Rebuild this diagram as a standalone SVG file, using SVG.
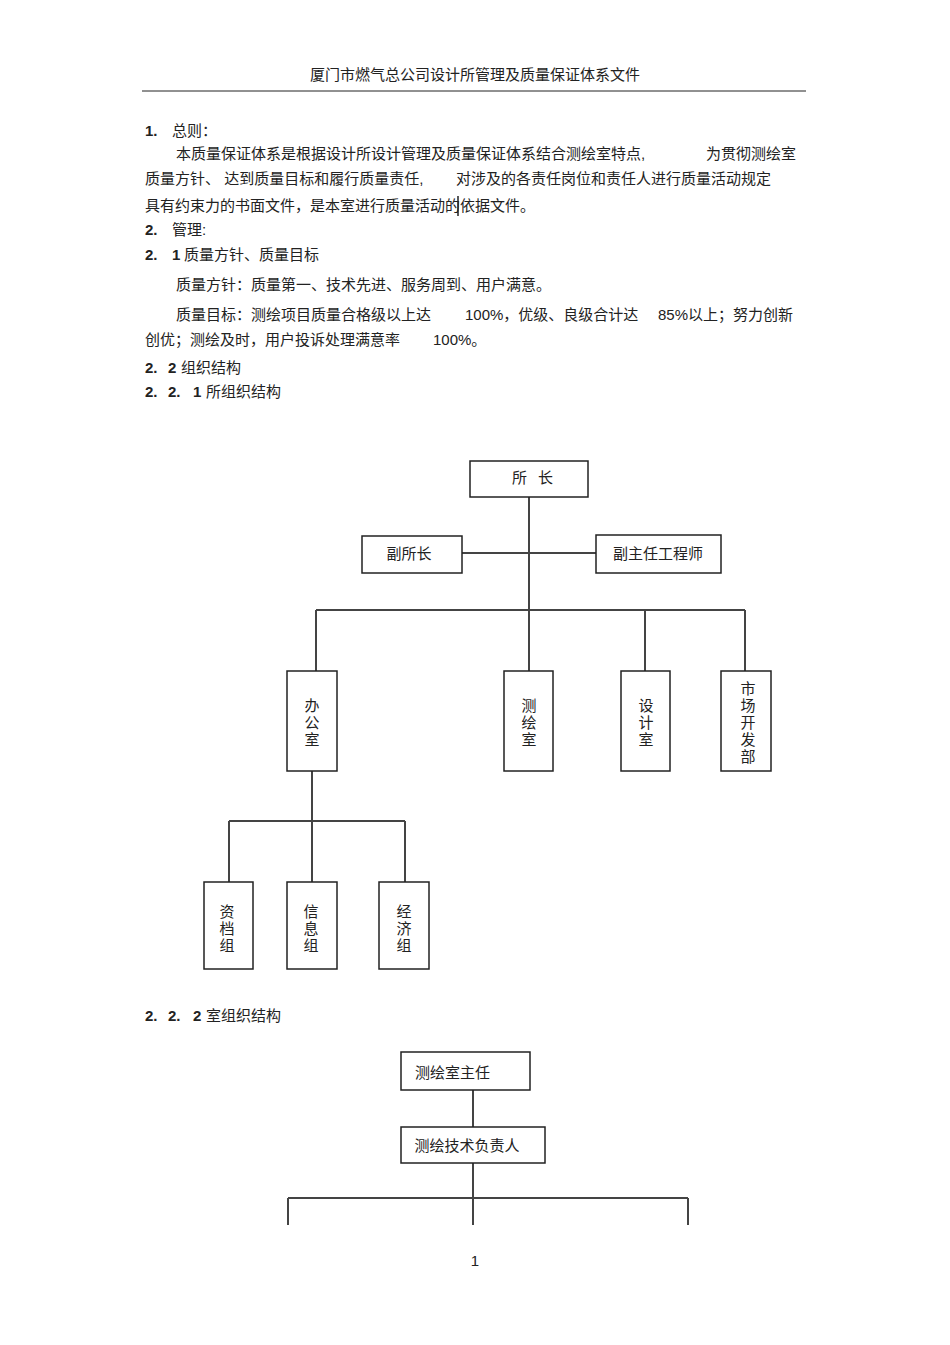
<svg xmlns="http://www.w3.org/2000/svg" width="950" height="1345" viewBox="0 0 950 1345">
<style>
text{font-family:"Liberation Sans","Noto Sans CJK SC",sans-serif;fill:#222;font-size:15px}
.b{fill:#fff;stroke:#222;stroke-width:1.5}
.c{stroke:#444;stroke-width:2;fill:none}
.m{text-anchor:middle}
.bold{font-weight:bold}
</style>
<rect width="950" height="1345" fill="#fff"/>
<text x="475" y="80" class="m" font-size="13">厦门市燃气总公司设计所管理及质量保证体系文件</text>
<line x1="142" y1="91" x2="806" y2="91" stroke="#222" stroke-width="1"/>
<text x="145" y="136" class="bold">1.</text><text x="172" y="136">总则：</text>
<text x="176" y="159">本质量保证体系是根据设计所设计管理及质量保证体系结合测绘室特点,</text>
<text x="706" y="159">为贯彻测绘室</text>
<text x="145" y="184">质量方针、 达到质量目标和履行质量责任,</text>
<text x="456" y="184">对涉及的各责任岗位和责任人进行质量活动规定</text>
<text x="145" y="211">具有约束力的书面文件，是本室进行质量活动的依据文件。</text>
<line x1="458" y1="196" x2="458" y2="216" stroke="#222" stroke-width="1.5"/>
<text x="145" y="235" class="bold">2.</text><text x="172" y="235">管理:</text>
<text x="145" y="260" class="bold">2.</text><text x="172" y="260" class="bold">1</text><text x="184" y="260">质量方针、质量目标</text>
<text x="176" y="290">质量方针：质量第一、技术先进、服务周到、用户满意。</text>
<text x="176" y="320">质量目标：测绘项目质量合格级以上达</text>
<text x="465" y="320">100%，优级、良级合计达</text>
<text x="658" y="320">85%以上；努力创新</text>
<text x="145" y="345">创优；测绘及时，用户投诉处理满意率</text>
<text x="433" y="345">100%。</text>
<text x="145" y="373" class="bold">2.</text><text x="168" y="373" class="bold">2</text><text x="181" y="373">组织结构</text>
<text x="145" y="397" class="bold">2.</text><text x="168" y="397" class="bold">2.</text><text x="193" y="397" class="bold">1</text><text x="206" y="397">所组织结构</text>
<text x="145" y="1021" class="bold">2.</text><text x="168" y="1021" class="bold">2.</text><text x="193" y="1021" class="bold">2</text><text x="206" y="1021">室组织结构</text>
<g id="connectors">
<path class="c" d="M529 497V610M462 553H596M316 610H745M316 610V671M529 610V671M645 610V671M745 610V671"/>
<path class="c" d="M312 771V882M229 821H405M229 821V882M405 821V882"/>
<path class="c" d="M473 1090V1127M473 1163V1225M288 1198H688M288 1198V1225M688 1198V1225"/>
</g>
<g id="n1"><rect class="b" x="470" y="461" width="118" height="36"/><text x="512" y="483">所</text><text x="538" y="483">长</text></g>
<g id="n2"><rect class="b" x="362" y="536" width="100" height="37"/><text x="409" y="559" class="m">副所长</text></g>
<g id="n3"><rect class="b" x="596" y="535" width="125" height="38"/><text x="658" y="559" class="m">副主任工程师</text></g>
<g id="n4"><rect class="b" x="287" y="671" width="50" height="100"/><text class="m"><tspan x="312" y="711">办</tspan><tspan x="312" y="728">公</tspan><tspan x="312" y="745">室</tspan></text></g>
<g id="n5"><rect class="b" x="504" y="671" width="49" height="100"/><text class="m"><tspan x="529" y="711">测</tspan><tspan x="529" y="728">绘</tspan><tspan x="529" y="745">室</tspan></text></g>
<g id="n6"><rect class="b" x="621" y="671" width="49" height="100"/><text class="m"><tspan x="646" y="711">设</tspan><tspan x="646" y="728">计</tspan><tspan x="646" y="745">室</tspan></text></g>
<g id="n7"><rect class="b" x="721" y="671" width="50" height="100"/><text class="m"><tspan x="748" y="694">市</tspan><tspan x="748" y="711">场</tspan><tspan x="748" y="728">开</tspan><tspan x="748" y="745">发</tspan><tspan x="748" y="762">部</tspan></text></g>
<g id="n8"><rect class="b" x="204" y="882" width="49" height="87"/><text class="m"><tspan x="227" y="917">资</tspan><tspan x="227" y="934">档</tspan><tspan x="227" y="951">组</tspan></text></g>
<g id="n9"><rect class="b" x="287" y="882" width="50" height="87"/><text class="m"><tspan x="311" y="917">信</tspan><tspan x="311" y="934">息</tspan><tspan x="311" y="951">组</tspan></text></g>
<g id="n10"><rect class="b" x="379" y="882" width="50" height="87"/><text class="m"><tspan x="404" y="917">经</tspan><tspan x="404" y="934">济</tspan><tspan x="404" y="951">组</tspan></text></g>
<g id="n11"><rect class="b" x="401" y="1052" width="129" height="38"/><text x="415" y="1078" font-size="18">测绘室主任</text></g>
<g id="n12"><rect class="b" x="401" y="1127" width="144" height="36"/><text x="467" y="1151" class="m">测绘技术负责人</text></g>
<text x="475" y="1266" class="m" font-size="12">1</text>
</svg>
